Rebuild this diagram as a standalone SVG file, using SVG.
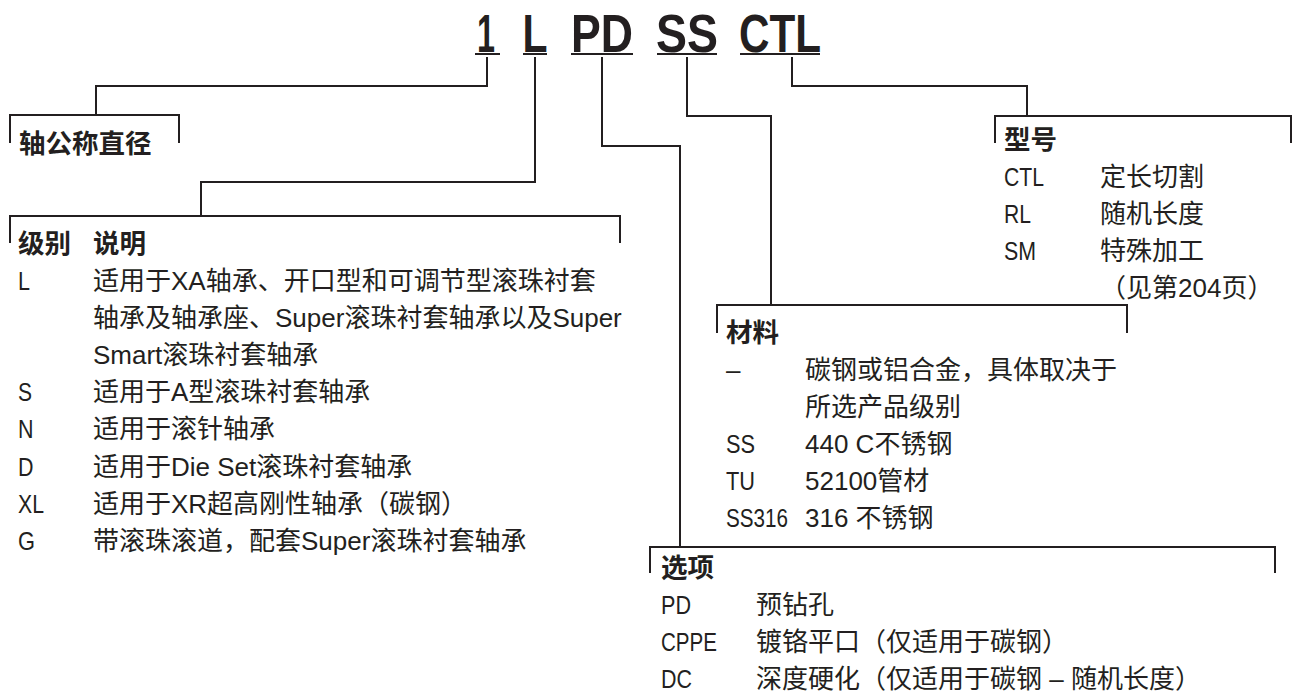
<svg xmlns="http://www.w3.org/2000/svg" width="1294" height="695" viewBox="0 0 1294 695">
<style>
  .bg { fill: #ffffff; }
  .ln { fill: none; stroke: #231f20; stroke-width: 2; stroke-linejoin: miter; stroke-linecap: butt; }
  .code { font-family: "Liberation Sans", "Noto Sans", sans-serif; font-weight: bold; font-size: 54px; fill: #231f20; text-anchor: middle; }
  .t { font-family: "Liberation Sans", "Noto Sans CJK SC", sans-serif; font-size: 26px; fill: #231f20; }
  .h { font-family: "Liberation Sans", "Noto Sans CJK SC", sans-serif; font-size: 26.5px; font-weight: bold; fill: #231f20; }
</style>
<rect class="bg" x="0" y="0" width="1294" height="695"/>

<g id="part-number">
  <g id="code-1"><text class="code" x="486" y="52" textLength="18" lengthAdjust="spacingAndGlyphs">1</text><line class="ln" x1="475" y1="54" x2="500" y2="54"/></g>
  <g id="code-L"><text class="code" x="535" y="52" textLength="25" lengthAdjust="spacingAndGlyphs">L</text><line class="ln" x1="523" y1="54" x2="547" y2="54"/></g>
  <g id="code-PD"><text class="code" x="602" y="52" textLength="62" lengthAdjust="spacingAndGlyphs">PD</text><line class="ln" x1="571" y1="54" x2="633" y2="54"/></g>
  <g id="code-SS"><text class="code" x="687" y="52" textLength="62" lengthAdjust="spacingAndGlyphs">SS</text><line class="ln" x1="657" y1="54" x2="717" y2="54"/></g>
  <g id="code-CTL"><text class="code" x="780" y="52" textLength="82" lengthAdjust="spacingAndGlyphs">CTL</text><line class="ln" x1="740" y1="54" x2="820" y2="54"/></g>
</g>

<g id="connectors">
  <path class="ln" d="M487,57 V86 H96 V115"/>
  <path class="ln" d="M535,57 V182 H201 V216"/>
  <path class="ln" d="M602,57 V146 H680 V547"/>
  <path class="ln" d="M687,57 V116 H771 V305"/>
  <path class="ln" d="M792,57 V86 H1027 V116"/>
</g>

<g id="box-diameter">
  <path class="ln" d="M10,143 V115 H179 V143"/>
  <text class="h" x="19" y="153">轴公称直径</text>
</g>

<g id="box-class">
  <path class="ln" d="M10,243 V216 H620 V243"/>
  <text class="h" x="18" y="253">级别</text>
  <text class="h" x="93" y="253">说明</text>
  <text class="t" x="18" y="290" textLength="12" lengthAdjust="spacingAndGlyphs">L</text>
  <text class="t" x="93" y="290">适用于XA轴承、开口型和可调节型滚珠衬套</text>
  <text class="t" x="93" y="327">轴承及轴承座、Super滚珠衬套轴承以及Super</text>
  <text class="t" x="93" y="364">Smart滚珠衬套轴承</text>
  <text class="t" x="18" y="401" textLength="14" lengthAdjust="spacingAndGlyphs">S</text>
  <text class="t" x="93" y="401">适用于A型滚珠衬套轴承</text>
  <text class="t" x="18" y="438" textLength="15.5" lengthAdjust="spacingAndGlyphs">N</text>
  <text class="t" x="93" y="438">适用于滚针轴承</text>
  <text class="t" x="18" y="476" textLength="15.5" lengthAdjust="spacingAndGlyphs">D</text>
  <text class="t" x="93" y="476">适用于Die Set滚珠衬套轴承</text>
  <text class="t" x="18" y="513" textLength="26" lengthAdjust="spacingAndGlyphs">XL</text>
  <text class="t" x="93" y="513">适用于XR超高刚性轴承（碳钢）</text>
  <text class="t" x="18" y="550" textLength="17" lengthAdjust="spacingAndGlyphs">G</text>
  <text class="t" x="93" y="550">带滚珠滚道，配套Super滚珠衬套轴承</text>
</g>

<g id="box-type">
  <path class="ln" d="M995,143 V116 H1291 V143"/>
  <text class="h" x="1004" y="149">型号</text>
  <text class="t" x="1004" y="186" textLength="40" lengthAdjust="spacingAndGlyphs">CTL</text>
  <text class="t" x="1100" y="186">定长切割</text>
  <text class="t" x="1004" y="223" textLength="27" lengthAdjust="spacingAndGlyphs">RL</text>
  <text class="t" x="1100" y="223">随机长度</text>
  <text class="t" x="1004" y="260" textLength="32" lengthAdjust="spacingAndGlyphs">SM</text>
  <text class="t" x="1100" y="260">特殊加工</text>
  <text class="t" x="1100" y="297">（见第204页）</text>
</g>

<g id="box-material">
  <path class="ln" d="M717,333 V305 H1127 V333"/>
  <text class="h" x="726" y="342">材料</text>
  <text class="t" x="726" y="379">–</text>
  <text class="t" x="805" y="379">碳钢或铝合金，具体取决于</text>
  <text class="t" x="805" y="416">所选产品级别</text>
  <text class="t" x="726" y="453" textLength="29" lengthAdjust="spacingAndGlyphs">SS</text>
  <text class="t" x="805" y="453">440 C不锈钢</text>
  <text class="t" x="726" y="490" textLength="29" lengthAdjust="spacingAndGlyphs">TU</text>
  <text class="t" x="805" y="490">52100管材</text>
  <text class="t" x="726" y="527" textLength="62" lengthAdjust="spacingAndGlyphs">SS316</text>
  <text class="t" x="805" y="527">316 不锈钢</text>
</g>

<g id="box-options">
  <path class="ln" d="M650,573 V547 H1275 V573"/>
  <text class="h" x="661" y="577">选项</text>
  <text class="t" x="661" y="614" textLength="30" lengthAdjust="spacingAndGlyphs">PD</text>
  <text class="t" x="756" y="614">预钻孔</text>
  <text class="t" x="661" y="651" textLength="56" lengthAdjust="spacingAndGlyphs">CPPE</text>
  <text class="t" x="756" y="651">镀铬平口（仅适用于碳钢）</text>
  <text class="t" x="661" y="688" textLength="31" lengthAdjust="spacingAndGlyphs">DC</text>
  <text class="t" x="756" y="688">深度硬化（仅适用于碳钢 – 随机长度）</text>
</g>
</svg>
